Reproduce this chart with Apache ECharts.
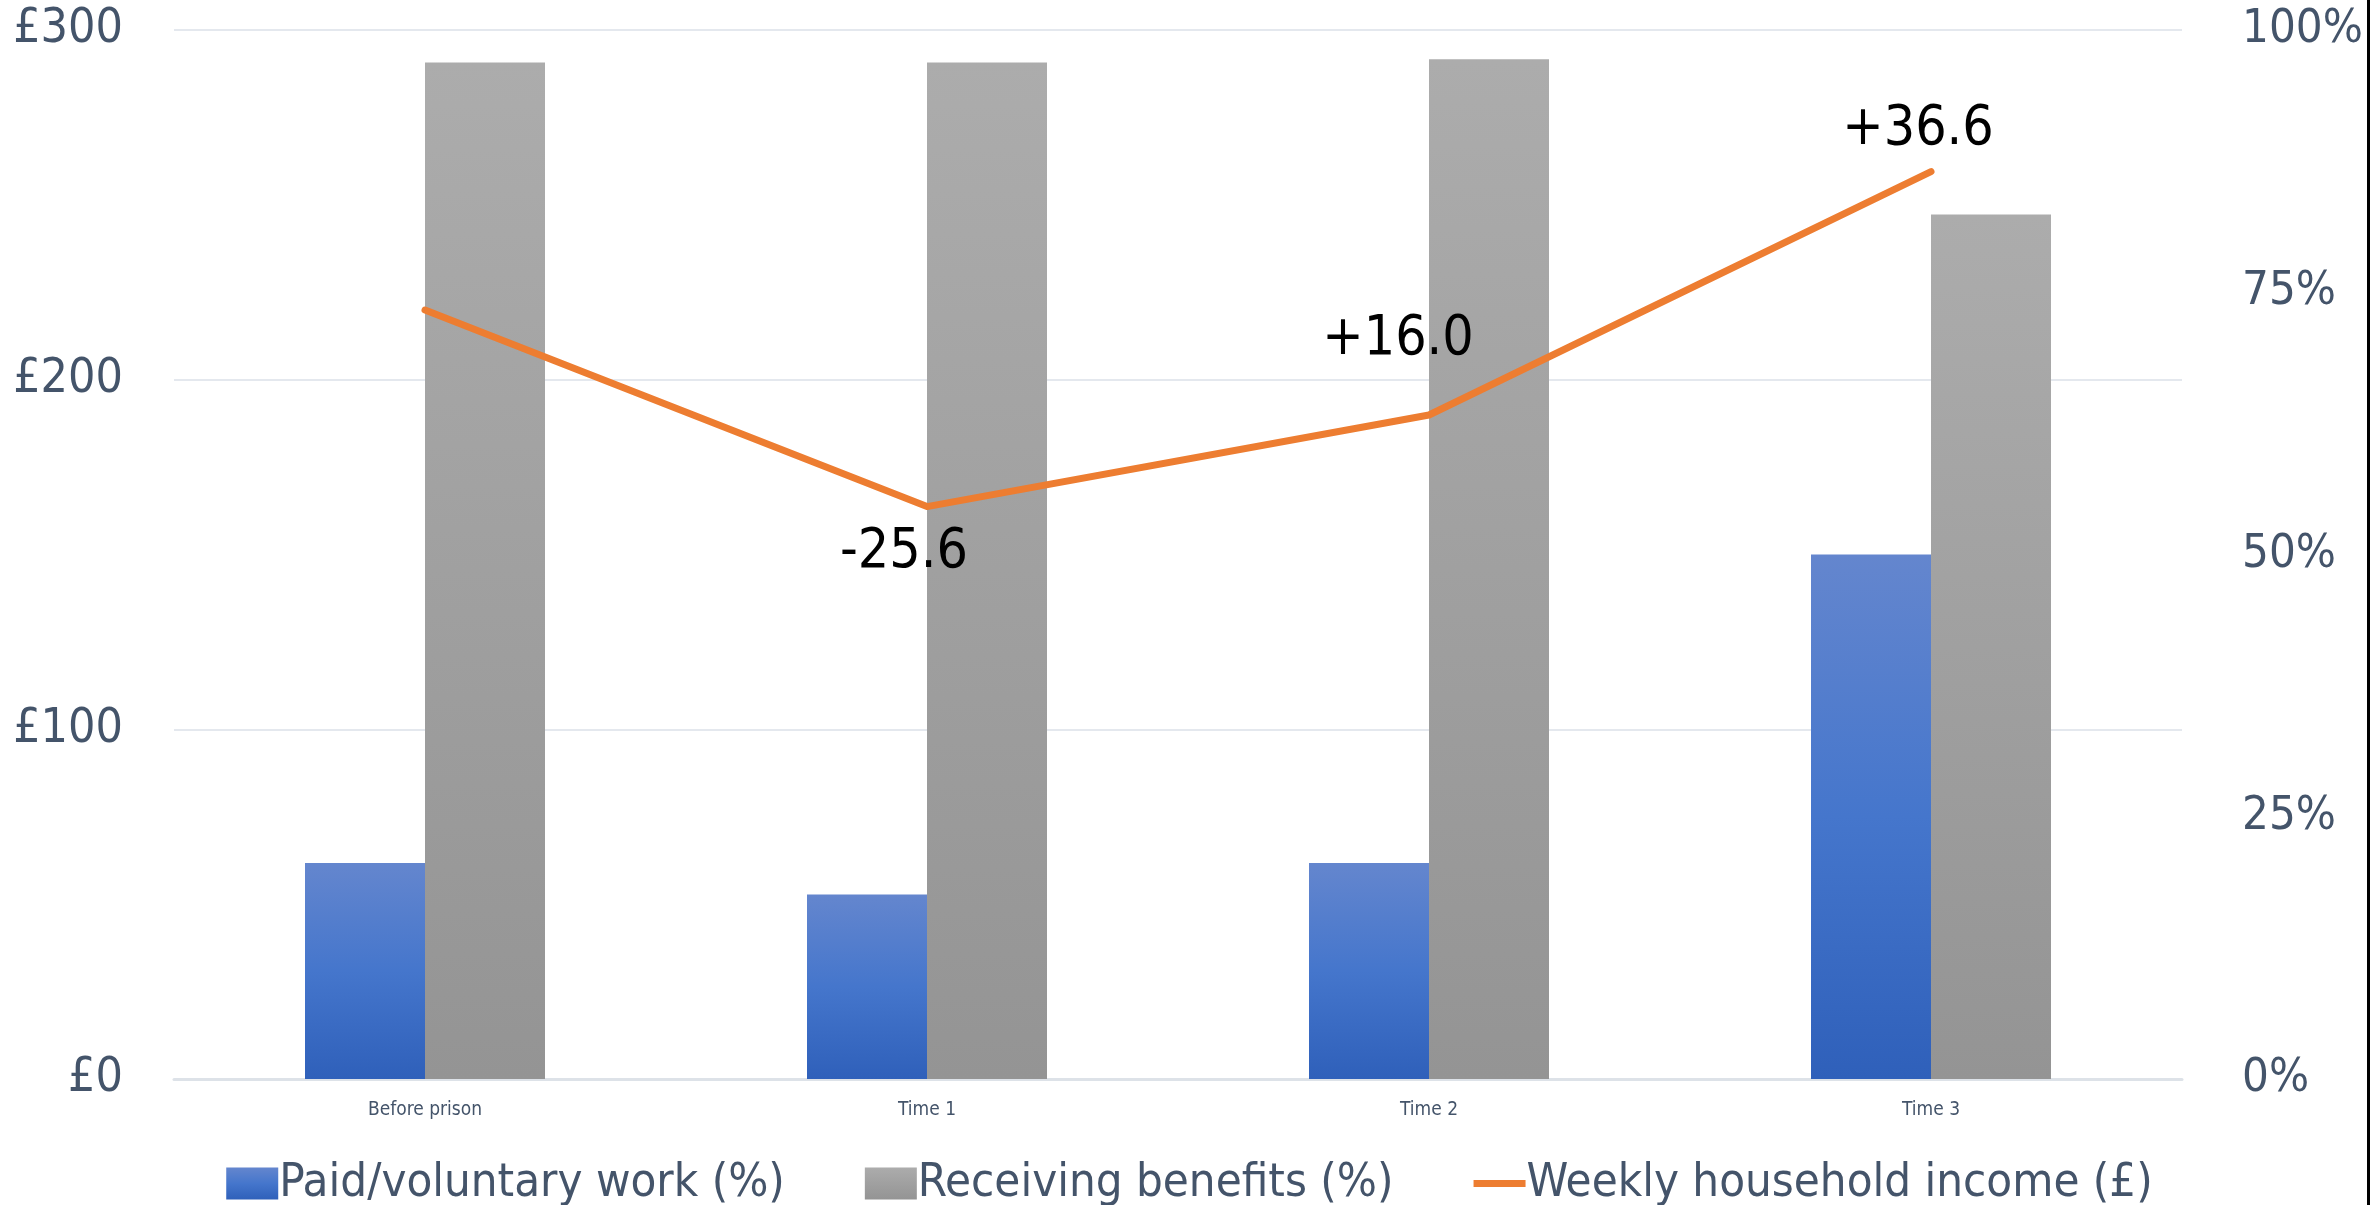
<!DOCTYPE html>
<html>
<head>
<meta charset="utf-8">
<script src="https://cdn.jsdelivr.net/npm/echarts@6/dist/echarts.min.js"></script>
<style>
html,body{margin:0;padding:0;background:#fff;}
#wrap{position:relative;width:2379px;height:1205px;}
#chart{position:absolute;left:0;top:0;width:2379px;height:1205px;}
#edge{position:absolute;left:2367px;top:0;width:3px;height:1205px;background:#000;}
</style>
</head>
<body>
<div id="wrap"><div id="chart"></div><div id="edge"></div></div>
<script>
const categories = ['Before prison', 'Time 1', 'Time 2', 'Time 3'];
const paidWork = [20.6, 17.6, 20.6, 50.0];
const benefits = [96.9, 96.9, 97.2, 82.4];
const income = [219.9, 163.7, 189.9, 259.5];
const incomeLabels = ['', '-25.6', '+16.0', '+36.6'];
const leftTicks = [0, 100, 200, 300];
const rightTicks = [0, 25, 50, 75, 100];

const FONT = "'Liberation Sans Narrow', 'DejaVu Sans Condensed', 'Liberation Sans', sans-serif";
const TXT = '#44546A';
const labelOffsets = [[0, 0], [-23, 46], [-31, -75], [-13, -42]];

const chart = echarts.init(document.getElementById('chart'), null, {renderer: 'canvas'});
const blueGrad = new echarts.graphic.LinearGradient(0, 0, 0, 1, [
  {offset: 0, color: '#6486CE'}, {offset: 0.5, color: '#4576CC'}, {offset: 1, color: '#2F60BA'}
]);
const greyGrad = new echarts.graphic.LinearGradient(0, 0, 0, 1, [
  {offset: 0, color: '#ACACAC'}, {offset: 1, color: '#949494'}
]);

chart.setOption({
  animation: false,
  textStyle: {fontFamily: FONT},
  grid: {left: 174, right: 197, top: 30, bottom: 126, containLabel: false},
  legend: {
    bottom: -7,
    left: 'center',
    itemWidth: 52,
    itemHeight: 32,
    itemGap: 80,
    symbolKeepAspect: true,
    textStyle: {fontFamily: FONT, fontSize: 47, color: TXT, padding: [0, 0, 0, -4]},
    data: [
      {name: 'Paid/voluntary work (%)', icon: 'rect'},
      {name: 'Receiving benefits (%)', icon: 'rect'},
      {name: 'Weekly household income (£)', icon: 'path://M0,0H52V7H0Z', itemStyle: {color: '#ED7D31'}}
    ]
  },
  xAxis: {
    type: 'category',
    data: categories,
    axisLine: {show: true, lineStyle: {color: '#DDE2E8', width: 3}},
    axisTick: {show: false},
    axisLabel: {fontFamily: FONT, fontSize: 19, color: TXT, margin: 22}
  },
  yAxis: [
    {
      type: 'value', min: leftTicks[0], max: leftTicks[leftTicks.length - 1], interval: 100,
      axisLine: {show: false}, axisTick: {show: false},
      splitLine: {lineStyle: {color: '#E4E8EE', width: 2}},
      axisLabel: {fontFamily: FONT, fontSize: 48, color: TXT, margin: 51, formatter: v => '£' + v}
    },
    {
      type: 'value', min: rightTicks[0], max: rightTicks[rightTicks.length - 1], interval: 25,
      axisLine: {show: false}, axisTick: {show: false}, splitLine: {show: false},
      axisLabel: {fontFamily: FONT, fontSize: 47, color: TXT, margin: 60, align: 'left', formatter: v => v + '%'}
    }
  ],
  series: [
    {
      name: 'Paid/voluntary work (%)', type: 'bar', yAxisIndex: 1,
      data: paidWork, barWidth: 120, barGap: '0%',
      itemStyle: {color: blueGrad}
    },
    {
      name: 'Receiving benefits (%)', type: 'bar', yAxisIndex: 1,
      data: benefits, barWidth: 120, barGap: '0%',
      itemStyle: {color: greyGrad}
    },
    {
      name: 'Weekly household income (£)', type: 'line', yAxisIndex: 0,
      data: income.map((v, i) => ({
        value: v,
        label: {
          show: incomeLabels[i] !== '',
          formatter: incomeLabels[i],
          position: 'inside',
          offset: labelOffsets[i],
          fontFamily: FONT, fontSize: 55, color: '#000'
        }
      })),
      symbol: 'circle', symbolSize: 1, showSymbol: true,
      itemStyle: {color: '#ED7D31'},
      lineStyle: {color: '#ED7D31', width: 7, cap: 'round', join: 'round'},
      z: 5
    }
  ]
});
</script>
</body>
</html>
